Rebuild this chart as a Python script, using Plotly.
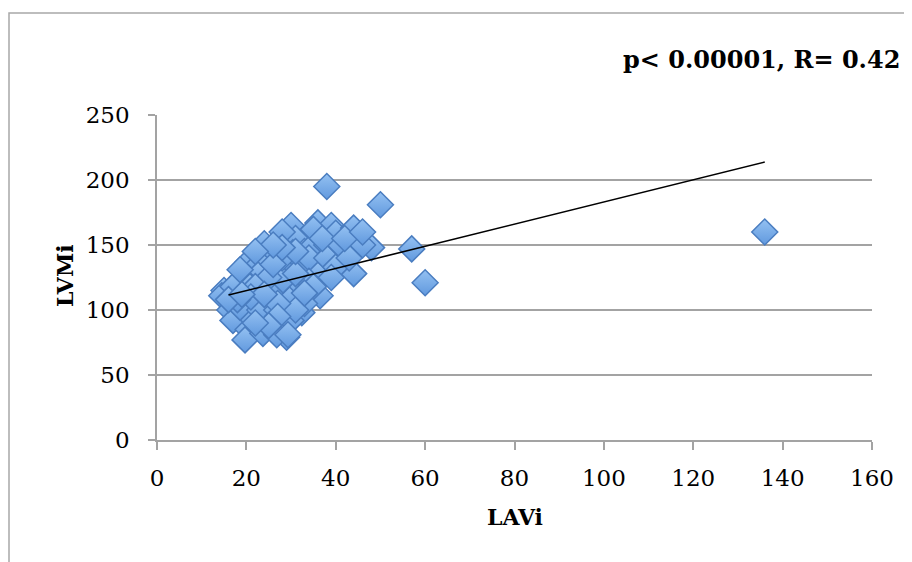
import plotly.graph_objects as go

# LAVi (x) and LVMi (y) values
lavi = [38, 50, 57, 60, 136,
        30, 31, 36, 39, 40, 44, 45, 48, 42, 42, 44, 37, 32, 36, 32, 36.5, 29, 32.4, 30, 29,
        24, 28, 26.4, 20.4, 23, 29, 22.6, 19.3, 25, 15, 14.5, 16.3, 17, 20.4, 19.7, 23.7,
        26.8, 29.3, 20.8, 18.6, 23, 26.8, 26.8, 20.8, 17, 18.6, 28.2, 30.4,
        33, 35, 38, 34, 38, 40, 41, 46, 43, 39, 34, 31, 35, 33, 31, 27, 25, 28, 31, 26,
        22, 21, 24, 27, 25, 22, 18, 16, 19, 33, 28, 35, 26, 22, 37, 42, 46]
lvmi = [195, 181, 147, 121, 160,
        165, 155, 167, 165, 159, 163, 156, 148, 145, 138, 128, 138, 133, 127, 118, 111, 110, 98, 92, 79,
        151, 160, 144, 137, 136, 132, 127, 124, 108, 115, 111, 100, 92, 85, 77, 82,
        81, 81, 95, 102, 100, 100, 118, 118, 118, 131, 123, 144,
        145, 150, 150, 140, 140, 133, 150, 150, 140, 125, 122, 128, 118, 105, 100, 105, 125, 140, 145, 135,
        118, 110, 112, 95, 88, 90, 108, 108, 112, 113, 148, 162, 150, 145, 155, 155, 160]

# Trend line endpoints
trend_x = [16, 136]
trend_y = [111.5, 213.8]

x_ticks = [0, 20, 40, 60, 80, 100, 120, 140, 160]
y_ticks = [0, 50, 100, 150, 200, 250]

title_text = "p< 0.00001, R= 0.42"
x_title = "LAVi"
y_title = "LVMi"

# the page body has an 8px default margin; work in page pixels
OFF = 8
W, H = 912 - OFF, 562 - OFF
PL, PR, PT, PB = 157, 872, 115, 440      # plot area in page pixels
L, T = PL - OFF, PT - OFF
R = W - (PR - OFF)
B = H - (PB - OFF)
pw, ph = PR - PL, PB - PT

def px_x(p):
    return (p - PL) / pw

def px_y(p):
    return (PB - p) / ph

fig = go.Figure()
fig.add_trace(go.Scatter(
    x=lavi, y=lvmi, mode="markers",
    marker=dict(symbol="diamond", size=20, color="#94c1f2",
                gradient=dict(type="vertical", color="#6199de"),
                line=dict(color="#4a7dc0", width=1.5)),
    showlegend=False, hoverinfo="x+y"))
fig.add_trace(go.Scatter(
    x=trend_x, y=trend_y, mode="lines",
    line=dict(color="black", width=1.6), showlegend=False))

gray = "#a3a3a3"
tickfont = dict(family="DejaVu Serif", size=23, color="black")
fig.update_xaxes(range=[0, 160], tickvals=x_ticks, showgrid=False,
                 showline=True, linecolor=gray, linewidth=1.5,
                 ticks="outside", ticklen=8, tickcolor=gray, tickwidth=1.5,
                 tickfont=tickfont, ticklabelstandoff=9, zeroline=False)
fig.update_yaxes(range=[0, 250], tickvals=y_ticks, showgrid=True,
                 gridcolor=gray, gridwidth=1.5,
                 showline=True, linecolor=gray, linewidth=1.5,
                 ticks="outside", ticklen=7, tickcolor=gray, tickwidth=1.5,
                 tickfont=tickfont, ticklabelstandoff=14, zeroline=False)

fig.update_layout(
    width=W, height=H,
    margin=dict(l=L, r=R, t=T, b=B),
    paper_bgcolor="white", plot_bgcolor="white",
    shapes=[dict(type="rect", xref="paper", yref="paper",
                 x0=px_x(9), x1=px_x(940), y0=px_y(600), y1=px_y(13),
                 line=dict(color="#a8a8a8", width=1.5), layer="below")],
    annotations=[
        dict(text=f"<b>{title_text}</b>", xref="paper", yref="paper",
             x=px_x(621), y=px_y(60), xanchor="left", yanchor="middle",
             showarrow=False, font=dict(family="DejaVu Serif", size=24, color="black")),
        dict(text=f"<b>{x_title}</b>", xref="paper", yref="paper",
             x=0.5, y=px_y(517), xanchor="center", yanchor="middle",
             showarrow=False, font=dict(family="DejaVu Serif", size=22, color="black")),
        dict(text=f"<b>{y_title}</b>", xref="paper", yref="paper",
             x=px_x(65), y=px_y(276), xanchor="center", yanchor="middle",
             textangle=-90, showarrow=False,
             font=dict(family="DejaVu Serif", size=22, color="black")),
    ],
)

fig.write_html("out.html")
